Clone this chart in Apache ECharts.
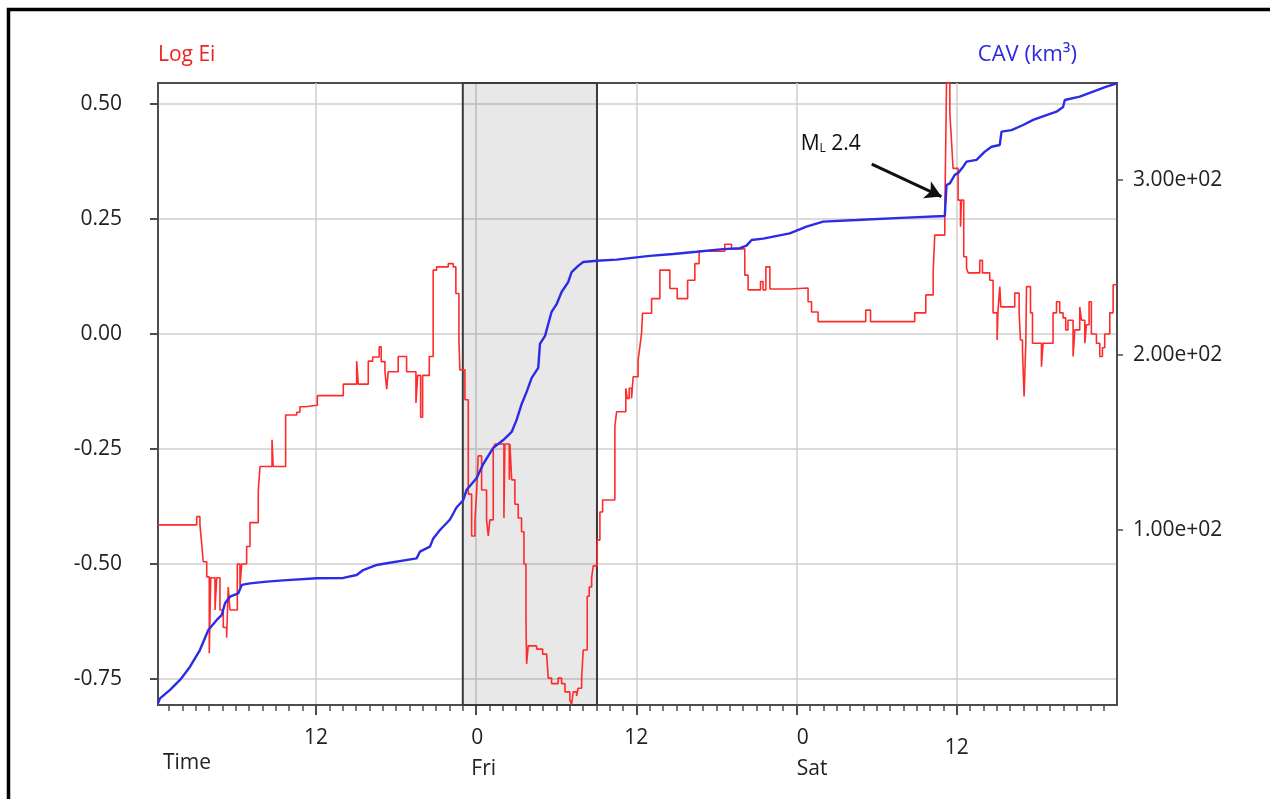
<!DOCTYPE html>
<html>
<head>
<meta charset="utf-8">
<script src="https://cdn.jsdelivr.net/npm/echarts@6/dist/echarts.min.js"></script>
<style>
  html, body { margin: 0; padding: 0; background: #ffffff; }
  #chart { width: 1270px; height: 799px; }
</style>
</head>
<body>
<div id="chart"></div>
<script>
// Time is counted in hours from 00:00 on Thursday.
const eiHours = [0.17, 3.07, 3.31, 3.44, 3.56, 3.82, 4.01, 4.12, 4.44, 4.57, 4.81, 5.06, 5.31, 5.43, 5.56, 6.11, 6.31, 6.44, 6.81, 7.06,
  7.68, 7.81, 8.71, 8.80, 9.73, 10.56, 10.80, 11.18, 12.10, 14.05, 15.05, 15.17, 15.92, 16.25, 16.74, 16.89, 17.17, 17.30, 17.41, 18.16,
  18.79, 19.49, 19.62, 19.84, 19.99, 20.49, 20.78, 21.04, 21.91, 22.28, 22.48, 22.71, 22.78, 23.16, 23.41, 23.66, 23.91, 24.04, 24.15, 24.41,
  24.78, 24.91, 25.03, 25.28, 25.41, 26.08, 26.15, 26.48, 26.53, 26.66, 26.90, 27.15, 27.40, 27.58, 27.73, 27.78, 27.90, 28.53, 28.98, 29.28,
  29.40, 29.65, 30.14, 30.40, 30.65, 31.02, 31.15, 31.27, 31.52, 31.64, 31.90, 32.02, 32.32, 32.47, 32.65, 32.77, 33.07, 33.27, 33.47, 34.39,
  34.52, 35.21, 35.31, 35.46, 35.64, 35.76, 36.13, 36.26, 36.39, 36.46, 37.14, 37.76, 38.51, 39.06, 39.84, 40.38, 40.70, 42.62, 43.13, 44.12,
  44.37, 45.30, 45.49, 45.70, 46.00, 47.49, 48.86, 49.12, 49.61, 53.18, 53.54, 56.85, 57.68, 58.23, 58.35, 59.10, 59.23, 59.48, 59.60, 59.72,
  60.10, 60.28, 60.35, 60.52, 60.73, 60.85, 61.72, 61.92, 62.47, 62.72, 63.02, 63.09, 63.22, 63.30, 64.34, 64.67, 64.77, 64.92, 65.04, 65.17,
  65.22, 65.52, 65.67, 66.34, 66.46, 67.21, 67.47, 67.71, 67.96, 68.16, 68.33, 68.71, 68.84, 69.21, 69.34, 69.59, 69.71, 69.91, 70.08, 70.46,
  70.71, 70.91, 71.08, 71.46, 71.71, 72];
const eiValues = [-0.415, -0.397, -0.415, -0.455, -0.495, -0.528, -0.694, -0.53, -0.60, -0.53, -0.60, -0.638, -0.66, -0.55, -0.60, -0.50, -0.55, -0.50, -0.462, -0.41,
  -0.341, -0.288, -0.23, -0.288, -0.176, -0.170, -0.158, -0.155, -0.134, -0.109, -0.059, -0.109, -0.059, -0.050, -0.028, -0.06, -0.082, -0.12, -0.082, -0.049,
  -0.082, -0.15, -0.09, -0.181, -0.09, -0.049, 0.139, 0.146, 0.153, 0.146, 0.088, -0.013, -0.078, -0.143, -0.348, -0.439, -0.404, -0.343, -0.265, -0.339,
  -0.404, -0.439, -0.404, -0.248, -0.239, -0.40, -0.239, -0.317, -0.239, -0.317, -0.37, -0.40, -0.43, -0.50, -0.622, -0.717, -0.678, -0.685, -0.696, -0.70,
  -0.748, -0.76, -0.748, -0.76, -0.778, -0.796, -0.805, -0.778, -0.787, -0.77, -0.748, -0.687, -0.57, -0.55, -0.53, -0.504, -0.448, -0.387, -0.361, -0.201,
  -0.169, -0.118, -0.14, -0.118, -0.14, -0.093, -0.057, -0.028, 0.002, 0.045, 0.077, 0.139, 0.099, 0.077, 0.117, 0.153, 0.18, 0.195, 0.185, 0.128,
  0.096, 0.114, 0.096, 0.146, 0.098, 0.10, 0.07, 0.048, 0.027, 0.052, 0.027, 0.046, 0.085, 0.135, 0.215, 0.254, 0.545, 0.48, 0.422, 0.36,
  0.291, 0.233, 0.291, 0.168, 0.143, 0.133, 0.16, 0.133, 0.117, 0.046, -0.013, 0.052, 0.103, 0.059, 0.089, 0.046, -0.013, -0.035, -0.136, -0.02,
  0.103, 0.046, -0.02, -0.071, -0.02, 0.046, 0.07, 0.046, 0.035, 0.009, 0.03, -0.049, 0.009, 0.059, 0.03, -0.02, 0.02, 0.07, 0.0, -0.02,
  -0.049, -0.03, 0.0, 0.046, 0.107, 0.107];

const cavHours = [0.17, 0.32, 1.07, 1.82, 2.57, 3.31, 3.94, 4.57, 4.94, 5.19, 5.56, 6.18, 6.44, 7.06, 8.31, 9.55, 12.05, 14.05, 15.05, 15.54,
  16.55, 17.30, 19.54, 19.79, 20.54, 20.79, 21.29, 22.04, 22.54, 23.03, 23.29, 24.04, 24.53, 25.28, 26.03, 26.66, 27.03, 27.41, 27.78, 28.16,
  28.65, 28.78, 29.16, 29.40, 29.65, 30.03, 30.40, 30.90, 31.15, 31.64, 32.02, 33.02, 34.52, 37.01, 38.76, 40.51, 42.50, 43.75, 44.25, 44.63,
  45.50, 47.49, 48.74, 49.99, 52.49, 56.23, 59.10, 59.23, 59.48, 59.85, 60.10, 60.48, 60.73, 61.48, 62.10, 62.60, 63.22, 63.35, 64.10, 64.97,
  65.72, 66.72, 67.47, 67.96, 68.09, 69.21, 70.21, 71.21, 72];
const cavValues = [1, 3.8, 8.6, 14.3, 21.9, 31.4, 42.9, 48.6, 51.4, 58.1, 61.9, 63.8, 68.6, 69.5, 70.5, 71.2, 72.4, 72.6, 74.3, 77.1,
  80, 81, 83.8, 87.6, 90.5, 95.2, 100, 106, 113, 117, 123, 129.7, 137.7, 146.9, 151.4, 156, 162.9, 172, 178.9, 186.9,
  192.6, 206.3, 210.9, 217.7, 224.6, 229.1, 236, 241.7, 247.4, 250.9, 253.1, 253.8, 254.5, 256.6, 257.7, 259, 260.5, 261, 262.5, 265.7,
  266.5, 269.5, 273.3, 276.2, 277.1, 278.5, 279.4, 297.1, 298, 302.9, 304, 307.6, 310.5, 311.5, 316.2, 319, 320, 327.6, 328.5, 331.4,
  334.3, 337.1, 339, 341.7, 345.7, 347.6, 350.5, 353.3, 355.2];

// Axis ticks and labels
const dayTickHours = [12, 24, 36, 48, 60];
const dayTickLabels = { 12: '12', 24: '{fri|0}\n{fri|Fri}', 36: '12', 48: '{sat|0}\n{sat|Sat}', 60: '{gap| }\n{low|12}' };
const logTicks = [-0.75, -0.5, -0.25, 0, 0.25, 0.5];
const cavTicks = [100, 200, 300];
const hourTicks = [];
for (let h = 1; h < 72; h++) if (h % 12 !== 0) hourTicks.push(h);

// Shaded night-time window and the ML 2.4 event
const shadeStart = 23.0, shadeEnd = 33.05;
const eventArrowFrom = [53.63, 309.1], eventArrowTo = [58.85, 290.5];
const eventLabelAt = [50.56, 321.7];

const zip = (xs, ys) => xs.slice(0, Math.min(xs.length, ys.length)).map((x, i) => [x, ys[i]]);

const FONT = 'Open Sans';
const labelText = { fontFamily: FONT, fontSize: 21, color: '#222' };
const frameColor = '#4d4d4d';
const gridColor = '#cfcfcf';

function expLabel(v) {
  const e = Math.floor(Math.log10(v));
  const m = v / Math.pow(10, e);
  return m.toFixed(2) + 'e+' + String(e).padStart(2, '0');
}

const chart = echarts.init(document.getElementById('chart'), null, { renderer: 'canvas' });
chart.setOption({
  animation: false,
  backgroundColor: '#ffffff',
  grid: { left: 158, top: 83, right: 153, bottom: 94, show: true, borderColor: frameColor, borderWidth: 2, backgroundColor: 'transparent' },
  xAxis: [
    {
      type: 'value', min: 0.17, max: 72, position: 'bottom',
      axisLine: { show: true, onZero: false, lineStyle: { color: frameColor, width: 2 } },
      axisTick: { show: true, customValues: dayTickHours, length: 10, lineStyle: { color: frameColor, width: 2 } },
      splitLine: { show: true, lineStyle: { color: gridColor, width: 1.5 } },
      axisLabel: {
        customValues: dayTickHours, margin: 18, ...labelText, lineHeight: 31, align: 'center', verticalAlign: 'top',
        formatter: v => dayTickLabels[Math.round(v)] || '',
        rich: {
          fri: { ...labelText, lineHeight: 31, align: 'left', padding: [0, 0, 0, 15] },
          sat: { ...labelText, lineHeight: 31, align: 'left', padding: [0, 0, 0, 31] },
          gap: { fontSize: 4, lineHeight: 10 },
          low: { ...labelText, lineHeight: 31 }
        }
      }
    },
    {
      type: 'value', min: 0.17, max: 72, position: 'bottom',
      axisLine: { show: false, onZero: false },
      axisTick: { show: true, customValues: hourTicks, length: 6, lineStyle: { color: frameColor, width: 1.5 } },
      splitLine: { show: false },
      axisLabel: { show: false }
    }
  ],
  yAxis: [
    {
      type: 'value', min: -0.8065, max: 0.5457, position: 'left',
      name: 'Log Ei', nameLocation: 'end', nameGap: 17,
      nameTextStyle: { fontFamily: FONT, fontSize: 21, color: '#ee2222', align: 'left' },
      axisLine: { show: true, onZero: false, lineStyle: { color: frameColor, width: 2 } },
      axisTick: { show: true, customValues: logTicks, length: 8, lineStyle: { color: frameColor, width: 2 } },
      splitLine: { show: true, lineStyle: { color: gridColor, width: 1.5 } },
      axisLabel: { customValues: logTicks, margin: 36, ...labelText, formatter: v => v.toFixed(2) }
    },
    {
      type: 'value', min: 0, max: 355.4, position: 'right',
      name: 'CAV (km³)', nameLocation: 'end', nameGap: 17,
      nameTextStyle: { fontFamily: FONT, fontSize: 22, color: '#2a2ae0', align: 'right', padding: [0, 40, 0, 0] },
      axisLine: { show: true, onZero: false, lineStyle: { color: frameColor, width: 2 } },
      axisTick: { show: true, customValues: cavTicks, length: 6, lineStyle: { color: frameColor, width: 1.5 } },
      splitLine: { show: false },
      axisLabel: { customValues: cavTicks, margin: 16, ...labelText, formatter: v => expLabel(v) }
    }
  ],
  series: [
    {
      name: 'Log Ei', type: 'line', xAxisIndex: 0, yAxisIndex: 0, step: 'end',
      data: zip(eiHours, eiValues), showSymbol: false, symbol: 'none', z: 3,
      lineStyle: { color: '#ff2b2b', width: 1.6 },
      markArea: {
        silent: true,
        itemStyle: { color: 'rgba(0,0,0,0.09)', borderColor: '#3a3a3a', borderWidth: 2 },
        data: [[{ xAxis: shadeStart }, { xAxis: shadeEnd }]]
      }
    },
    {
      name: 'CAV', type: 'line', xAxisIndex: 0, yAxisIndex: 1,
      data: zip(cavHours, cavValues), showSymbol: false, symbol: 'none', z: 4,
      lineStyle: { color: '#2b2be8', width: 2.4 },
      markLine: {
        silent: true, symbol: ['none', 'arrow'], symbolSize: [14, 16],
        lineStyle: { color: '#111', width: 3, type: 'solid' },
        label: { show: false },
        data: [[{ coord: eventArrowFrom }, { coord: eventArrowTo }]]
      },
      markPoint: {
        silent: true, symbol: 'circle', symbolSize: 1,
        itemStyle: { color: 'rgba(0,0,0,0)' },
        label: {
          show: true, position: 'inside', formatter: '{m|M}{s|L}{m| 2.4}',
          rich: {
            m: { fontFamily: FONT, fontSize: 21, color: '#111', lineHeight: 26, verticalAlign: 'bottom' },
            s: { fontFamily: FONT, fontSize: 12, color: '#111', lineHeight: 19, verticalAlign: 'bottom' }
          }
        },
        data: [{ coord: eventLabelAt }]
      }
    }
  ],
  graphic: [
    { type: 'rect', silent: true, z: 100, shape: { x: 8.5, y: 9.5, width: 1400, height: 900 }, style: { fill: 'none', stroke: '#000', lineWidth: 3.5 } },
    { type: 'text', silent: true, left: 163, top: 753, style: { text: 'Time', fontFamily: FONT, fontSize: 21, fill: '#222' } }
  ]
});
</script>
</body>
</html>
